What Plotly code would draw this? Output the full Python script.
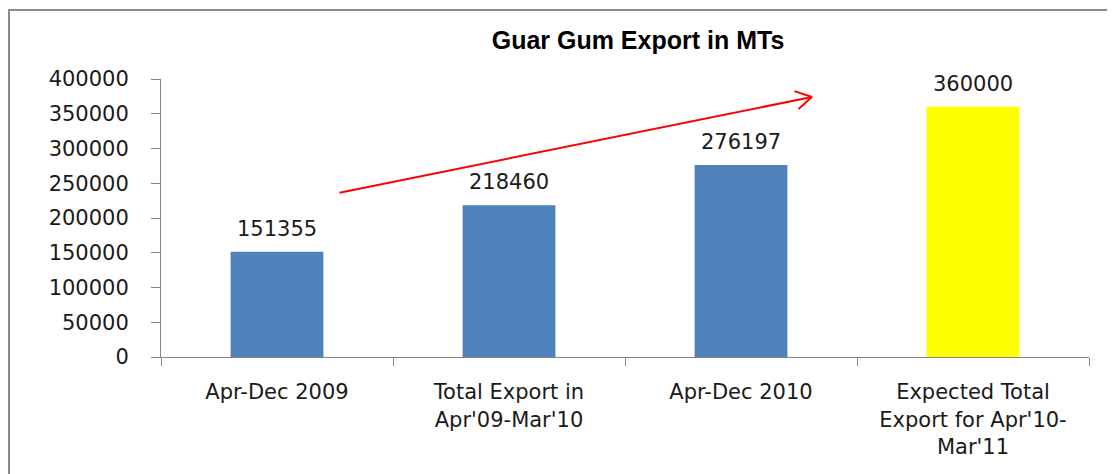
import plotly.graph_objects as go

categories = ["Apr-Dec 2009", "Total Export in<br>Apr'09-Mar'10", "Apr-Dec 2010",
              "Expected Total<br>Export for Apr'10-<br>Mar'11"]
values = [151355, 218460, 276197, 360000]
bar_colors = ["#4F81BD", "#4F81BD", "#4F81BD", "#FFFF00"]
y_ticks = [0, 50000, 100000, 150000, 200000, 250000, 300000, 350000, 400000]

W, H = 1115, 474
OFF = 8  # page body margin offset
L, T = 161 - OFF, 79 - OFF
R = W - (1089 - OFF)
B = H - (357 - OFF)
PW, PH = W - L - R, H - T - B

fig = go.Figure()
fig.add_trace(go.Bar(x=categories, y=values, marker=dict(color=bar_colors, line=dict(width=0)),
                     width=0.4, hoverinfo="x+y"))

annotations = []
for c, v in zip(categories, values):
    annotations.append(dict(x=c, y=v, xref="x", yref="y", text=str(v), showarrow=False,
                            yanchor="bottom", yshift=9,
                            font=dict(family="DejaVu Sans", size=21, color="#1a1a1a")))

# trend arrow (data coordinates)
x0, y0 = 0.263, 236000
x1, y1 = 2.306, 374100
annotations.append(dict(x=x1, y=y1, ax=x0, ay=y0, xref="x", yref="y", axref="x", ayref="y",
                        text="", showarrow=True, arrowhead=0, arrowwidth=2, arrowcolor="#FF0000",
                        standoff=0, startstandoff=0))
for dx, dy in [(-19, -6.4), (-15, 13.2)]:
    annotations.append(dict(x=x1, y=y1, ax=dx, ay=dy, xref="x", yref="y",
                            text="", showarrow=True, arrowhead=0, arrowwidth=2,
                            arrowcolor="#FF0000", standoff=0, startstandoff=0))

fig.update_layout(
    width=W, height=H,
    margin=dict(l=L, r=R, t=T, b=B),
    paper_bgcolor="white", plot_bgcolor="white",
    showlegend=False,
    title=dict(text="<b>Guar Gum Export in MTs</b>", x=(638 - OFF - L) / PW, xref="paper",
               xanchor="center", y=1 - (40 - OFF) / H, yanchor="middle", yref="container",
               font=dict(family="Liberation Sans", size=25, color="#000000")),
    annotations=annotations,
    xaxis=dict(type="category", showline=True, linecolor="#868686", linewidth=1,
               ticks="outside", tickson="boundaries", ticklen=8, tickcolor="#868686",
               ticklabelstandoff=16, showgrid=False, zeroline=False,
               tickfont=dict(family="DejaVu Sans", size=21, color="#1a1a1a")),
    yaxis=dict(range=[0, 400000], tickvals=y_ticks, ticktext=[str(t) for t in y_ticks],
               showline=True, linecolor="#868686", linewidth=1,
               ticks="outside", ticklen=9, tickcolor="#868686", ticklabelstandoff=18,
               showgrid=False, zeroline=False,
               tickfont=dict(family="DejaVu Sans", size=21, color="#1a1a1a")),
    shapes=[dict(type="rect", xref="paper", yref="paper",
                 x0=(1 - L) / PW, x1=1.2,
                 y0=-1.0, y1=(H - B - 2) / PH,
                 line=dict(color="#8a8a8a", width=2), fillcolor="rgba(0,0,0,0)", layer="below")],
)

fig.write_html("out.html")
